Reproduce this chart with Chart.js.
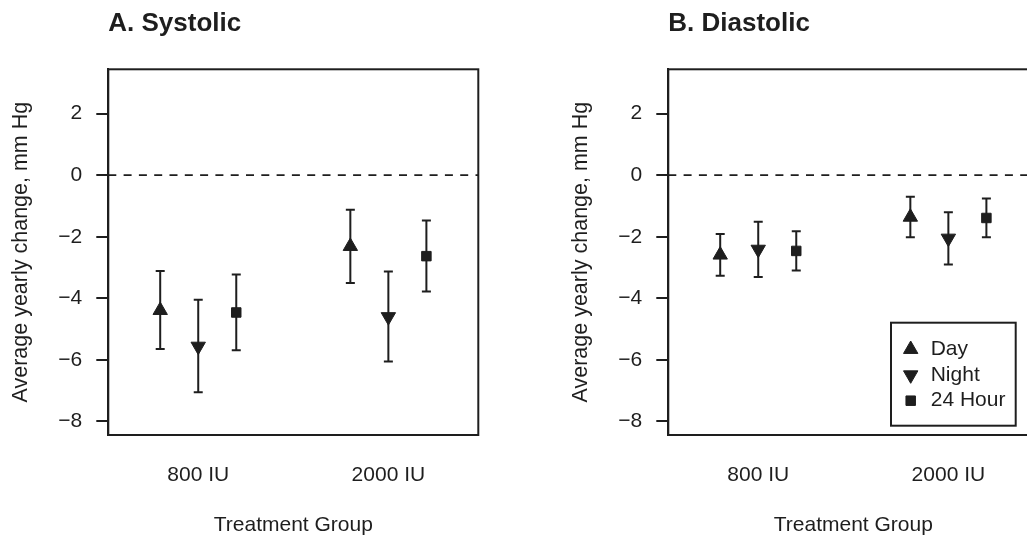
<!DOCTYPE html>
<html><head><meta charset="utf-8">
<script src="https://cdn.jsdelivr.net/npm/chart.js@4/dist/chart.umd.min.js"></script>
<style>
html,body{margin:0;padding:0;background:#fff;overflow:hidden;width:1027px;height:536px;}
.wrap{position:absolute;top:0;width:520px;height:536px;}
#wrapA{left:0;}
#wrapB{left:560px;}
</style></head><body>
<div id="wrapA" class="wrap"><canvas id="cA" width="520" height="536"></canvas></div>
<div id="wrapB" class="wrap"><canvas id="cB" width="520" height="536"></canvas></div>
<script>
// ---- data ----
const groups = ['800 IU', '2000 IU'];
const groupPos = [1, 2];
const seriesNames = ['Day', 'Night', '24 Hour'];
const seriesOffset = [-0.2, 0, 0.2];
const yTickValues = [-8, -6, -4, -2, 0, 2];
const refLine = 0;

// A. Systolic (estimate, lower CI, upper CI) per group
const sysDay = [-4.39, -2.31];
const sysDayLo = [-5.65, -3.50];
const sysDayHi = [-3.11, -1.12];
const sysNight = [-5.56, -4.60];
const sysNightLo = [-7.05, -6.05];
const sysNightHi = [-4.05, -3.13];
const sys24 = [-4.46, -2.63];
const sys24Lo = [-5.69, -3.78];
const sys24Hi = [-3.23, -1.47];

// B. Diastolic
const diaDay = [-2.59, -1.36];
const diaDayLo = [-3.27, -2.02];
const diaDayHi = [-1.91, -0.70];
const diaNight = [-2.41, -2.05];
const diaNightLo = [-3.31, -2.90];
const diaNightHi = [-1.51, -1.20];
const dia24 = [-2.46, -1.39];
const dia24Lo = [-3.10, -2.02];
const dia24Hi = [-1.82, -0.76];

// ---- styling ----
const INK = '#1e1e1e';
const FONT = "'Liberation Sans', Arial, Helvetica, sans-serif";
const markerStyle = [
  {pointStyle: 'triangle', rotation: 0, radius: 8.3},
  {pointStyle: 'triangle', rotation: 180, radius: 8.3},
  {pointStyle: 'rect', rotation: 0, radius: 6.7}
];

function fmtTick(v) { return v < 0 ? '\u2212' + Math.abs(v) : String(v); }

function drawMarker(ctx, st, x, y) {
  if (Chart.helpers && Chart.helpers.drawPoint) {
    ctx.fillStyle = INK; ctx.strokeStyle = INK; ctx.lineWidth = 1;
    Chart.helpers.drawPoint(ctx, {pointStyle: st.pointStyle, rotation: st.rotation, radius: st.radius, borderWidth: 1}, x, y);
  }
}

const panelPlugin = {
  id: 'panel',
  beforeDatasetsDraw(chart) {
    const {ctx, chartArea: a, scales: {x, y}} = chart;
    ctx.save();
    ctx.strokeStyle = INK;
    ctx.lineWidth = 1.8;
    ctx.setLineDash([8, 7.3]);
    const y0 = y.getPixelForValue(refLine);
    ctx.beginPath(); ctx.moveTo(a.left, y0); ctx.lineTo(a.right, y0); ctx.stroke();
    ctx.setLineDash([]);
    ctx.lineWidth = 2;
    chart.data.datasets.forEach(ds => {
      ds.data.forEach((p, i) => {
        const px = x.getPixelForValue(p.x);
        const lo = y.getPixelForValue(ds.lo[i]);
        const hi = y.getPixelForValue(ds.hi[i]);
        ctx.beginPath();
        ctx.moveTo(px, lo); ctx.lineTo(px, hi);
        ctx.moveTo(px - 4.5, lo); ctx.lineTo(px + 4.5, lo);
        ctx.moveTo(px - 4.5, hi); ctx.lineTo(px + 4.5, hi);
        ctx.stroke();
      });
    });
    ctx.restore();
  },
  afterDraw(chart, args, opts) {
    const {ctx, chartArea: a} = chart;
    ctx.save();
    ctx.strokeStyle = INK;
    ctx.lineWidth = 2;
    ctx.strokeRect(a.left, a.top, a.right - a.left, a.bottom - a.top);
    if (opts && opts.legend) {
      const L = {left: a.right - 147.3, top: a.bottom - 112.3, w: 124.7, h: 103};
      ctx.fillStyle = '#fff';
      ctx.fillRect(L.left, L.top, L.w, L.h);
      ctx.strokeRect(L.left, L.top, L.w, L.h);
      ctx.font = '21px ' + FONT;
      ctx.textBaseline = 'middle';
      ctx.textAlign = 'left';
      chart.data.datasets.forEach((ds, k) => {
        const yy = L.top + 26.6 + k * 25.7;
        drawMarker(ctx, markerStyle[k], L.left + 19.7, yy);
        ctx.fillStyle = INK;
        ctx.fillText(ds.label, L.left + 39.7, yy);
      });
    }
    ctx.restore();
  }
};

function makeDatasets(est, lo, hi) {
  return seriesNames.map((name, k) => ({
    label: name,
    data: groupPos.map((g, i) => ({x: g + seriesOffset[k], y: est[k][i]})),
    lo: lo[k],
    hi: hi[k],
    pointStyle: markerStyle[k].pointStyle,
    rotation: markerStyle[k].rotation,
    pointRadius: markerStyle[k].radius,
    pointHoverRadius: markerStyle[k].radius,
    backgroundColor: INK,
    borderColor: INK,
    borderWidth: 1,
    showLine: false
  }));
}

function makeChart(id, title, datasets, withLegend) {
  return new Chart(document.getElementById(id), {
    type: 'scatter',
    data: {datasets},
    plugins: [panelPlugin],
    options: {
      responsive: false,
      animation: false,
      events: [],
      layout: {padding: {top: 0, right: 41.7, bottom: 0, left: 0}},
      plugins: {
        legend: {display: false},
        tooltip: {enabled: false},
        panel: {legend: withLegend},
        title: {
          display: true, text: title, align: 'start', fullSize: false, color: INK,
          font: {family: FONT, size: 26, weight: 'bold', lineHeight: 1.2},
          padding: {top: 8.7, bottom: 29.4}
        }
      },
      scales: {
        x: {
          type: 'linear',
          min: 0.527, max: 2.473,
          afterBuildTicks: s => { s.ticks = groupPos.map(v => ({value: v})); },
          afterFit: s => { s.height = 101; },
          ticks: {
            autoSkip: false, maxRotation: 0, padding: 27.8, color: INK,
            font: {family: FONT, size: 21},
            callback: v => groups[groupPos.indexOf(v)]
          },
          grid: {display: false, drawTicks: false},
          border: {display: false},
          title: {
            display: true, text: 'Treatment Group', color: INK,
            font: {family: FONT, size: 21, lineHeight: 1},
            padding: {top: 0, bottom: 0}
          }
        },
        y: {
          type: 'linear',
          min: -8.44, max: 3.44,
          afterBuildTicks: s => { s.ticks = yTickValues.map(v => ({value: v})); },
          afterFit: s => { s.width = 108.3; },
          ticks: {
            padding: 14, color: INK,
            font: {family: FONT, size: 21},
            callback: v => fmtTick(v)
          },
          grid: {drawOnChartArea: false, drawTicks: true, tickLength: 12, color: INK, lineWidth: 2},
          border: {display: true, color: INK, width: 2},
          title: {
            display: true, text: 'Average yearly change, mm Hg', color: INK,
            font: {family: FONT, size: 21.5, lineHeight: 1.2},
            padding: {top: 8, bottom: 0}
          }
        }
      }
    }
  });
}

makeChart('cA', 'A. Systolic',
  makeDatasets([sysDay, sysNight, sys24], [sysDayLo, sysNightLo, sys24Lo], [sysDayHi, sysNightHi, sys24Hi]), false);
makeChart('cB', 'B. Diastolic',
  makeDatasets([diaDay, diaNight, dia24], [diaDayLo, diaNightLo, dia24Lo], [diaDayHi, diaNightHi, dia24Hi]), true);
</script>
</body></html>
